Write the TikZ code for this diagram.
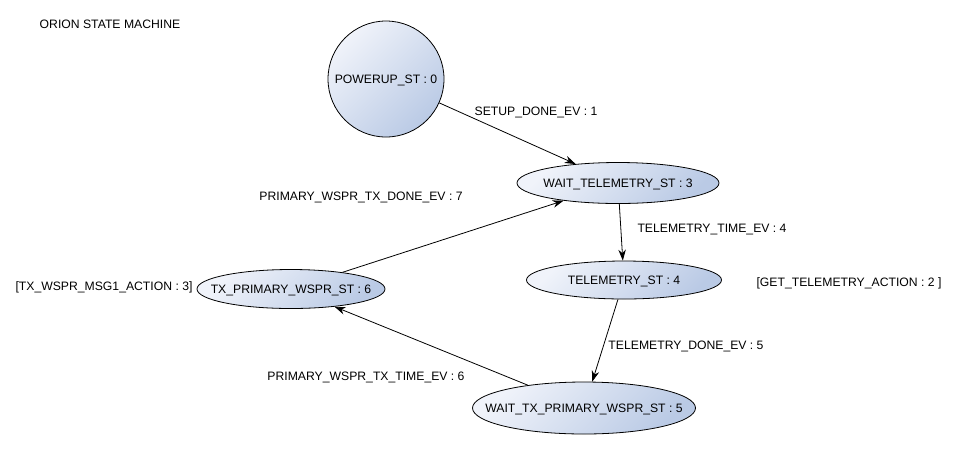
\documentclass[tikz,border=0pt]{standalone}
\usepackage{fontspec}
\setmainfont{Liberation Sans}
\usetikzlibrary{shapes.geometric,arrows.meta}
\definecolor{stlight}{HTML}{F0F3FA}
\definecolor{stdark}{HTML}{BACAE5}
\tikzset{
  state/.style={draw, line width=0.8pt, shading=axis, top color=stlight, bottom color=stdark, shading angle=45, inner sep=0pt},
  evlabel/.style={font=\fontsize{12.2}{14}\selectfont},
  trans/.style={-{Stealth[length=11pt,width=7.5pt]}, line width=0.8pt}
}
\begin{document}
\begin{tikzpicture}[x=1pt, y=-1pt, font=\fontsize{12.2}{14}\selectfont, every node/.append style={text depth=0pt}]
\useasboundingbox (0,0) rectangle (957,451);
\node (title) at (110,24) {ORION STATE MACHINE};
\node[state, circle, minimum size=116pt] (powerup) at (386,79) {POWERUP\_ST : 0};
\node[state, ellipse, minimum width=202pt, minimum height=41pt, label={center:WAIT\_TELEMETRY\_ST : 3}] (waittel) at (618,183) {};
\node[state, ellipse, minimum width=195pt, minimum height=38pt, label={center:TELEMETRY\_ST : 4}] (tel) at (624,280) {};
\node[state, ellipse, minimum width=188pt, minimum height=39pt, label={center:TX\_PRIMARY\_WSPR\_ST : 6}] (txprim) at (291,289) {};
\node[state, ellipse, minimum width=223pt, minimum height=52pt, label={center:WAIT\_TX\_PRIMARY\_WSPR\_ST : 5}] (waittx) at (584,408) {};
\node[evlabel] (txaction) at (104,286) {[TX\_WSPR\_MSG1\_ACTION : 3]};
\node[evlabel] (telaction) at (849,282) {[GET\_TELEMETRY\_ACTION : 2 ]};
% transitions
\draw[trans] (powerup) -- (waittel);
\node[evlabel] (setuplabel) at (536,111) {SETUP\_DONE\_EV : 1};
\draw[trans] (waittel) -- (tel);
\node[evlabel] (timelabel) at (712,228) {TELEMETRY\_TIME\_EV : 4};
\draw[trans] (tel) -- (waittx);
\node[evlabel] (donelabel) at (686,345) {TELEMETRY\_DONE\_EV : 5};
\draw[trans] (waittx) -- (txprim);
\node[evlabel] (txtimelabel) at (366,376) {PRIMARY\_WSPR\_TX\_TIME\_EV : 6};
\draw[trans] (txprim) -- (waittel);
\node[evlabel] (txdonelabel) at (361,196) {PRIMARY\_WSPR\_TX\_DONE\_EV : 7};
\end{tikzpicture}
\end{document}
